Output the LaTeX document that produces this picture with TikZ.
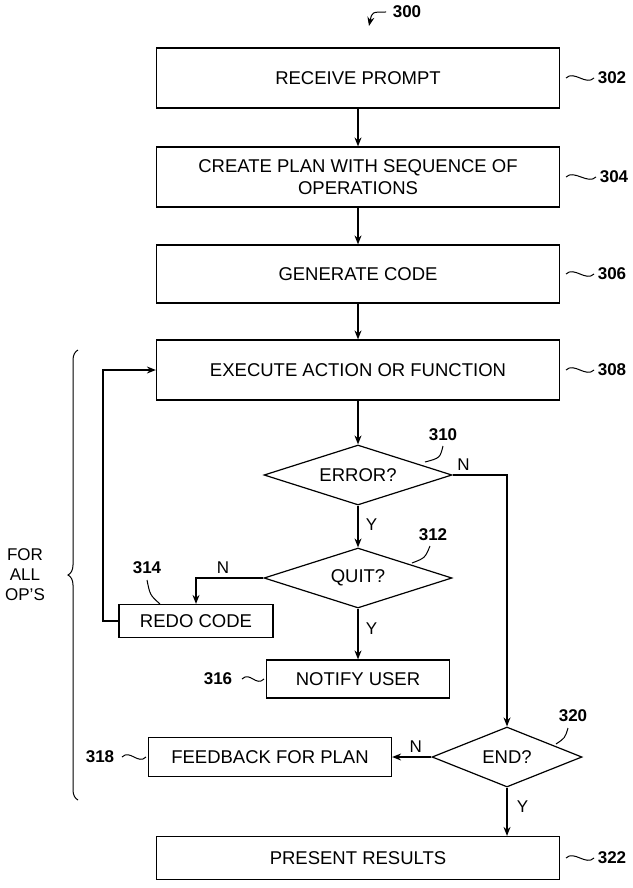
\documentclass[tikz,border=0pt]{standalone}
\usepackage{fontspec}
\setmainfont{Liberation Sans}
\usetikzlibrary{positioning,arrows.meta,shapes.geometric,decorations.pathreplacing}
\tikzset{
  >={Stealth[length=9pt,width=7pt]},
  stage/.style={
    rectangle,
    draw=black, line width=1.2pt,
    font=\fontsize{18.5}{22}\selectfont,
    align=center,
    inner sep=2pt},
  decision/.style={
    diamond, aspect=3.2,
    draw=black, line width=1.2pt,
    font=\fontsize{18.5}{22}\selectfont,
    inner sep=1pt},
  line/.style={draw, line width=1.2pt, ->},
  refnum/.style={font=\bfseries\fontsize{17}{19}\selectfont},
  lbl/.style={font=\fontsize{17}{20}\selectfont},
  squig/.style={line width=1pt},
}
\newcommand{\squiggle}[2]{% start point, end point (horizontal)
  \draw[squig] #1 .. controls +(8,-8) and +(-8,8) .. #2;}
\begin{document}
\begin{tikzpicture}[x=1pt,y=-1pt]
  \useasboundingbox (0,0) rectangle (632,888);
  % main boxes
  \node[stage, minimum width=403pt, minimum height=60pt] (prompt) at (358,78) {RECEIVE PROMPT};
  \node[stage, minimum width=403pt, minimum height=60pt] (plan) at (358,177) {CREATE PLAN WITH SEQUENCE OF\\OPERATIONS};
  \node[stage, minimum width=403pt, minimum height=58pt] (code) at (358,274) {GENERATE CODE};
  \node[stage, minimum width=403pt, minimum height=60pt] (exec) at (358,370) {EXECUTE ACTION OR FUNCTION};
  \node[decision, minimum width=188pt, minimum height=60pt] (error) at (358,475) {ERROR?};
  \node[decision, minimum width=188pt, minimum height=60pt] (quit) at (358,578) {QUIT?};
  \node[stage, minimum width=154pt, minimum height=33pt] (redo) at (196,621) {REDO CODE};
  \node[stage, minimum width=183pt, minimum height=38pt] (notify) at (358,679) {NOTIFY USER};
  \node[decision, minimum width=150pt, minimum height=60pt] (end) at (507,757) {END?};
  \node[stage, minimum width=243pt, minimum height=39pt] (feedback) at (270,757) {FEEDBACK FOR PLAN};
  \node[stage, minimum width=403pt, minimum height=43pt] (present) at (358,858) {PRESENT RESULTS};
  % connectors
  \path[line] (prompt) -- (plan);
  \path[line] (plan) -- (code);
  \path[line] (code) -- (exec);
  \path[line] (exec) -- (error);
  \path[line] (error) -- (quit) node[lbl, pos=0.45, right=4pt] {Y};
  \path[line] (error.east) -| (end.north) node[lbl, pos=0.1, above=1pt] {N};
  \path[line] (quit.west) -| (redo.north) node[lbl, pos=0.3, above=1pt] {N};
  \path[line] (quit) -- (notify) node[lbl, pos=0.4, right=4pt] {Y};
  \path[line] (redo.west) -| (103,370) -- (exec.west);
  \path[line] (end) -- (feedback) node[lbl, pos=0.4, above=1pt] {N};
  \path[line] (end.south) -- (end.south |- present.north) node[lbl, pos=0.4, right=6pt] {Y};
  % reference numbers
  \node[refnum] (n300) at (407,12) {300};
  \draw[squig, ->] (386,12) .. controls (372,12) .. (369,26);
  \node[refnum] (n302) at (612,78) {302}; \squiggle{(566,78)}{(594,78)}
  \node[refnum] (n304) at (614,177) {304}; \squiggle{(566,177)}{(596,177)}
  \node[refnum] (n306) at (612,274) {306}; \squiggle{(566,274)}{(594,274)}
  \node[refnum] (n308) at (612,370) {308}; \squiggle{(566,370)}{(594,370)}
  \node[refnum] (n310) at (443,435) {310};
  \draw[squig] (443,446) .. controls (440,458) .. (425,462);
  \node[refnum] (n312) at (433,535) {312};
  \draw[squig] (430,546) .. controls (425,558) .. (412,563);
  \node[refnum] (n314) at (147,568) {314};
  \draw[squig] (147,580) .. controls (150,595) .. (160,604);
  \node[refnum] (n316) at (218,679) {316}; \squiggle{(242,679)}{(264,679)}
  \node[refnum] (n318) at (100,757) {318}; \squiggle{(122,757)}{(146,757)}
  \node[refnum] (n320) at (573,716) {320};
  \draw[squig] (568,728) .. controls (565,738) .. (556,744);
  \node[refnum] (n322) at (612,858) {322}; \squiggle{(566,858)}{(594,858)}
  % brace
  \draw[decorate, decoration={brace, amplitude=10pt}, line width=1pt]
    (78,800) -- (78,350);
  \node[lbl, align=center] (ops) at (25,575) {FOR\\ALL\\OP’S};
\end{tikzpicture}
\end{document}
